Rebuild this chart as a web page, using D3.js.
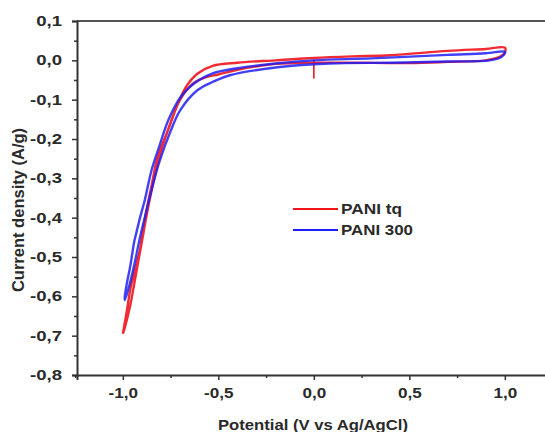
<!DOCTYPE html>
<html>
<head>
<meta charset="utf-8">
<script src="https://cdn.jsdelivr.net/npm/d3@7"></script>
<style>
  html, body { margin: 0; padding: 0; background: #fff; }
  svg { display: block; }
  text { font-family: "Liberation Sans", Arial, sans-serif; font-weight: bold; fill: #2a2a2a; }
</style>
</head>
<body>
<svg id="chart" width="545" height="432"></svg>
<script>
// ---- data ----
const seriesNames = ["PANI tq", "PANI 300"];
const seriesColors = ["#f0141e", "#1e1ef5"];

// PANI tq : closed CV loop (anodic branch then cathodic branch)
const potentialTq = [-1.00,-0.98,-0.96,-0.93,-0.91,-0.88,-0.85,-0.82,-0.77,-0.72,-0.67,-0.61,-0.53,-0.40,-0.20,0.00,0.20,0.40,0.70,0.90,1.00,
                     1.00,0.97,0.90,0.70,0.50,0.20,0.00,-0.20,-0.40,-0.50,-0.56,-0.63,-0.70,-0.75,-0.80,-0.84,-0.87,-0.90,-0.93,-0.96,-0.99,-1.00];
const currentTq   = [-0.695,-0.64,-0.58,-0.52,-0.48,-0.39,-0.32,-0.25,-0.185,-0.12,-0.068,-0.034,-0.014,-0.006,0.000,0.006,0.010,0.013,0.024,0.029,0.032,
                     0.020,0.008,0.000,-0.004,-0.007,-0.006,-0.006,-0.009,-0.024,-0.036,-0.042,-0.058,-0.10,-0.16,-0.23,-0.31,-0.38,-0.46,-0.54,-0.62,-0.68,-0.695];
// small start transient of PANI tq at 0 V
const spikePotential = [0.00, 0.00];
const spikeCurrent   = [0.002, -0.046];

// PANI 300
const potential300 = [-0.99,-0.98,-0.96,-0.94,-0.93,-0.91,-0.885,-0.85,-0.81,-0.76,-0.70,-0.65,-0.60,-0.53,-0.40,-0.20,0.00,0.30,0.70,0.90,1.00,
                      1.00,0.98,0.92,0.70,0.40,0.08,-0.18,-0.44,-0.53,-0.61,-0.70,-0.75,-0.81,-0.85,-0.88,-0.91,-0.94,-0.97,-0.99,-0.99];
const current300   = [-0.60,-0.57,-0.52,-0.46,-0.44,-0.40,-0.355,-0.28,-0.22,-0.15,-0.095,-0.068,-0.05,-0.033,-0.020,-0.008,0.000,0.005,0.014,0.018,0.022,
                      0.018,0.008,0.000,-0.003,-0.006,-0.008,-0.017,-0.038,-0.055,-0.076,-0.127,-0.18,-0.26,-0.33,-0.39,-0.45,-0.52,-0.58,-0.61,-0.60];

const xTicks = [-1.0, -0.5, 0.0, 0.5, 1.0];
const xMinorTicks = [-1.25, -0.75, -0.25, 0.25, 0.75, 1.25];
const yTicks = [0.1, 0.0, -0.1, -0.2, -0.3, -0.4, -0.5, -0.6, -0.7, -0.8];
const yMinorTicks = [0.05, -0.05, -0.15, -0.25, -0.35, -0.45, -0.55, -0.65, -0.75];
const xTitle = "Potential (V vs Ag/AgCl)";
const yTitle = "Current density (A/g)";

// ---- layout ----
const svg = d3.select("#chart");
const mLeft = 77, mTop = 21, mBottom = 375;
const x = d3.scaleLinear().domain([-1.24, 1.25]).range([mLeft, mLeft + 2.49 * 191]);
const y = d3.scaleLinear().domain([-0.8, 0.1]).range([mBottom, mTop]);

const fmt = v => { let s = Math.abs(v) < 1e-9 ? "0.0" : v.toFixed(1); return s.replace(".", ","); };

// frame (top & right)
svg.append("line").attr("x1", x.range()[0]).attr("x2", x.range()[1]).attr("y1", mTop).attr("y2", mTop)
   .attr("stroke", "#555").attr("stroke-width", 2);
svg.append("line").attr("x1", x.range()[1]).attr("x2", x.range()[1]).attr("y1", mTop).attr("y2", mBottom)
   .attr("stroke", "#555").attr("stroke-width", 2);

// data lines
const line = d3.line().x(d => x(d[0])).y(d => y(d[1])).curve(d3.curveCatmullRom.alpha(0.5));
const tqPts = potentialTq.map((p, i) => [p, currentTq[i]]);
const p300Pts = potential300.map((p, i) => [p, current300[i]]);
const spikePts = spikePotential.map((p, i) => [p, spikeCurrent[i]]);

const plot = svg.append("g");
plot.append("path").datum(tqPts).attr("d", line).attr("fill", "none")
    .attr("stroke", seriesColors[0]).attr("stroke-width", 2.4).attr("stroke-opacity", 0.9);
plot.append("path").datum(spikePts).attr("d", d3.line().x(d => x(d[0])).y(d => y(d[1]))).attr("fill", "none")
    .attr("stroke", seriesColors[0]).attr("stroke-width", 1.6);
plot.append("path").datum(p300Pts).attr("d", line).attr("fill", "none")
    .attr("stroke", seriesColors[1]).attr("stroke-width", 2.4).attr("stroke-opacity", 0.85);

// axes
const axisColor = "#333";
const xAxis = svg.append("g").attr("transform", `translate(0,${mBottom})`)
  .call(d3.axisBottom(x).tickValues(xTicks).tickFormat(fmt).tickSize(5).tickPadding(8));
const xMinor = svg.append("g").attr("transform", `translate(0,${mBottom})`)
  .call(d3.axisBottom(x).tickValues(xMinorTicks).tickFormat("").tickSize(3));
const yAxis = svg.append("g").attr("transform", `translate(${mLeft},0)`)
  .call(d3.axisLeft(y).tickValues(yTicks).tickFormat(fmt).tickSize(5).tickPadding(10));
const yMinor = svg.append("g").attr("transform", `translate(${mLeft},0)`)
  .call(d3.axisLeft(y).tickValues(yMinorTicks).tickFormat("").tickSize(3));

[xAxis, xMinor, yAxis, yMinor].forEach(g => {
  g.select(".domain").attr("stroke", axisColor).attr("stroke-width", 2);
  g.selectAll(".tick line").attr("stroke", axisColor).attr("stroke-width", 1.5);
  g.selectAll(".tick text").attr("fill", "#2a2a2a").style("font-size", "14.5px")
   .style("font-family", '"Liberation Sans", Arial, sans-serif').style("font-weight", "bold");
});
xMinor.select(".domain").remove();
yMinor.select(".domain").remove();
// reference text is horizontally widened
xAxis.selectAll(".tick text").each(function() {
  const w = this.getComputedTextLength();
  d3.select(this).attr("textLength", w * 1.18).attr("lengthAdjust", "spacingAndGlyphs");
});
yAxis.selectAll(".tick text").each(function() {
  const w = this.getComputedTextLength();
  d3.select(this).attr("textLength", w * 1.28).attr("lengthAdjust", "spacingAndGlyphs");
});

// titles
svg.append("text").attr("x", 313).attr("y", 430).attr("text-anchor", "middle")
   .style("font-size", "15px").attr("textLength", 190).attr("lengthAdjust", "spacingAndGlyphs").text(xTitle);
svg.append("text").attr("transform", "translate(24,210) rotate(-90)").attr("text-anchor", "middle")
   .style("font-size", "16.5px").text(yTitle);

// legend
const legend = svg.append("g");
const legendY = [209, 230];
seriesNames.forEach((n, i) => {
  legend.append("line").attr("x1", 293).attr("x2", 338).attr("y1", legendY[i]).attr("y2", legendY[i])
        .attr("stroke", seriesColors[i]).attr("stroke-width", 2);
  legend.append("text").attr("x", 341).attr("y", legendY[i] + 5).style("font-size", "14.5px")
        .attr("textLength", i === 0 ? 61 : 72).attr("lengthAdjust", "spacingAndGlyphs").text(n);
});
</script>
</body>
</html>
